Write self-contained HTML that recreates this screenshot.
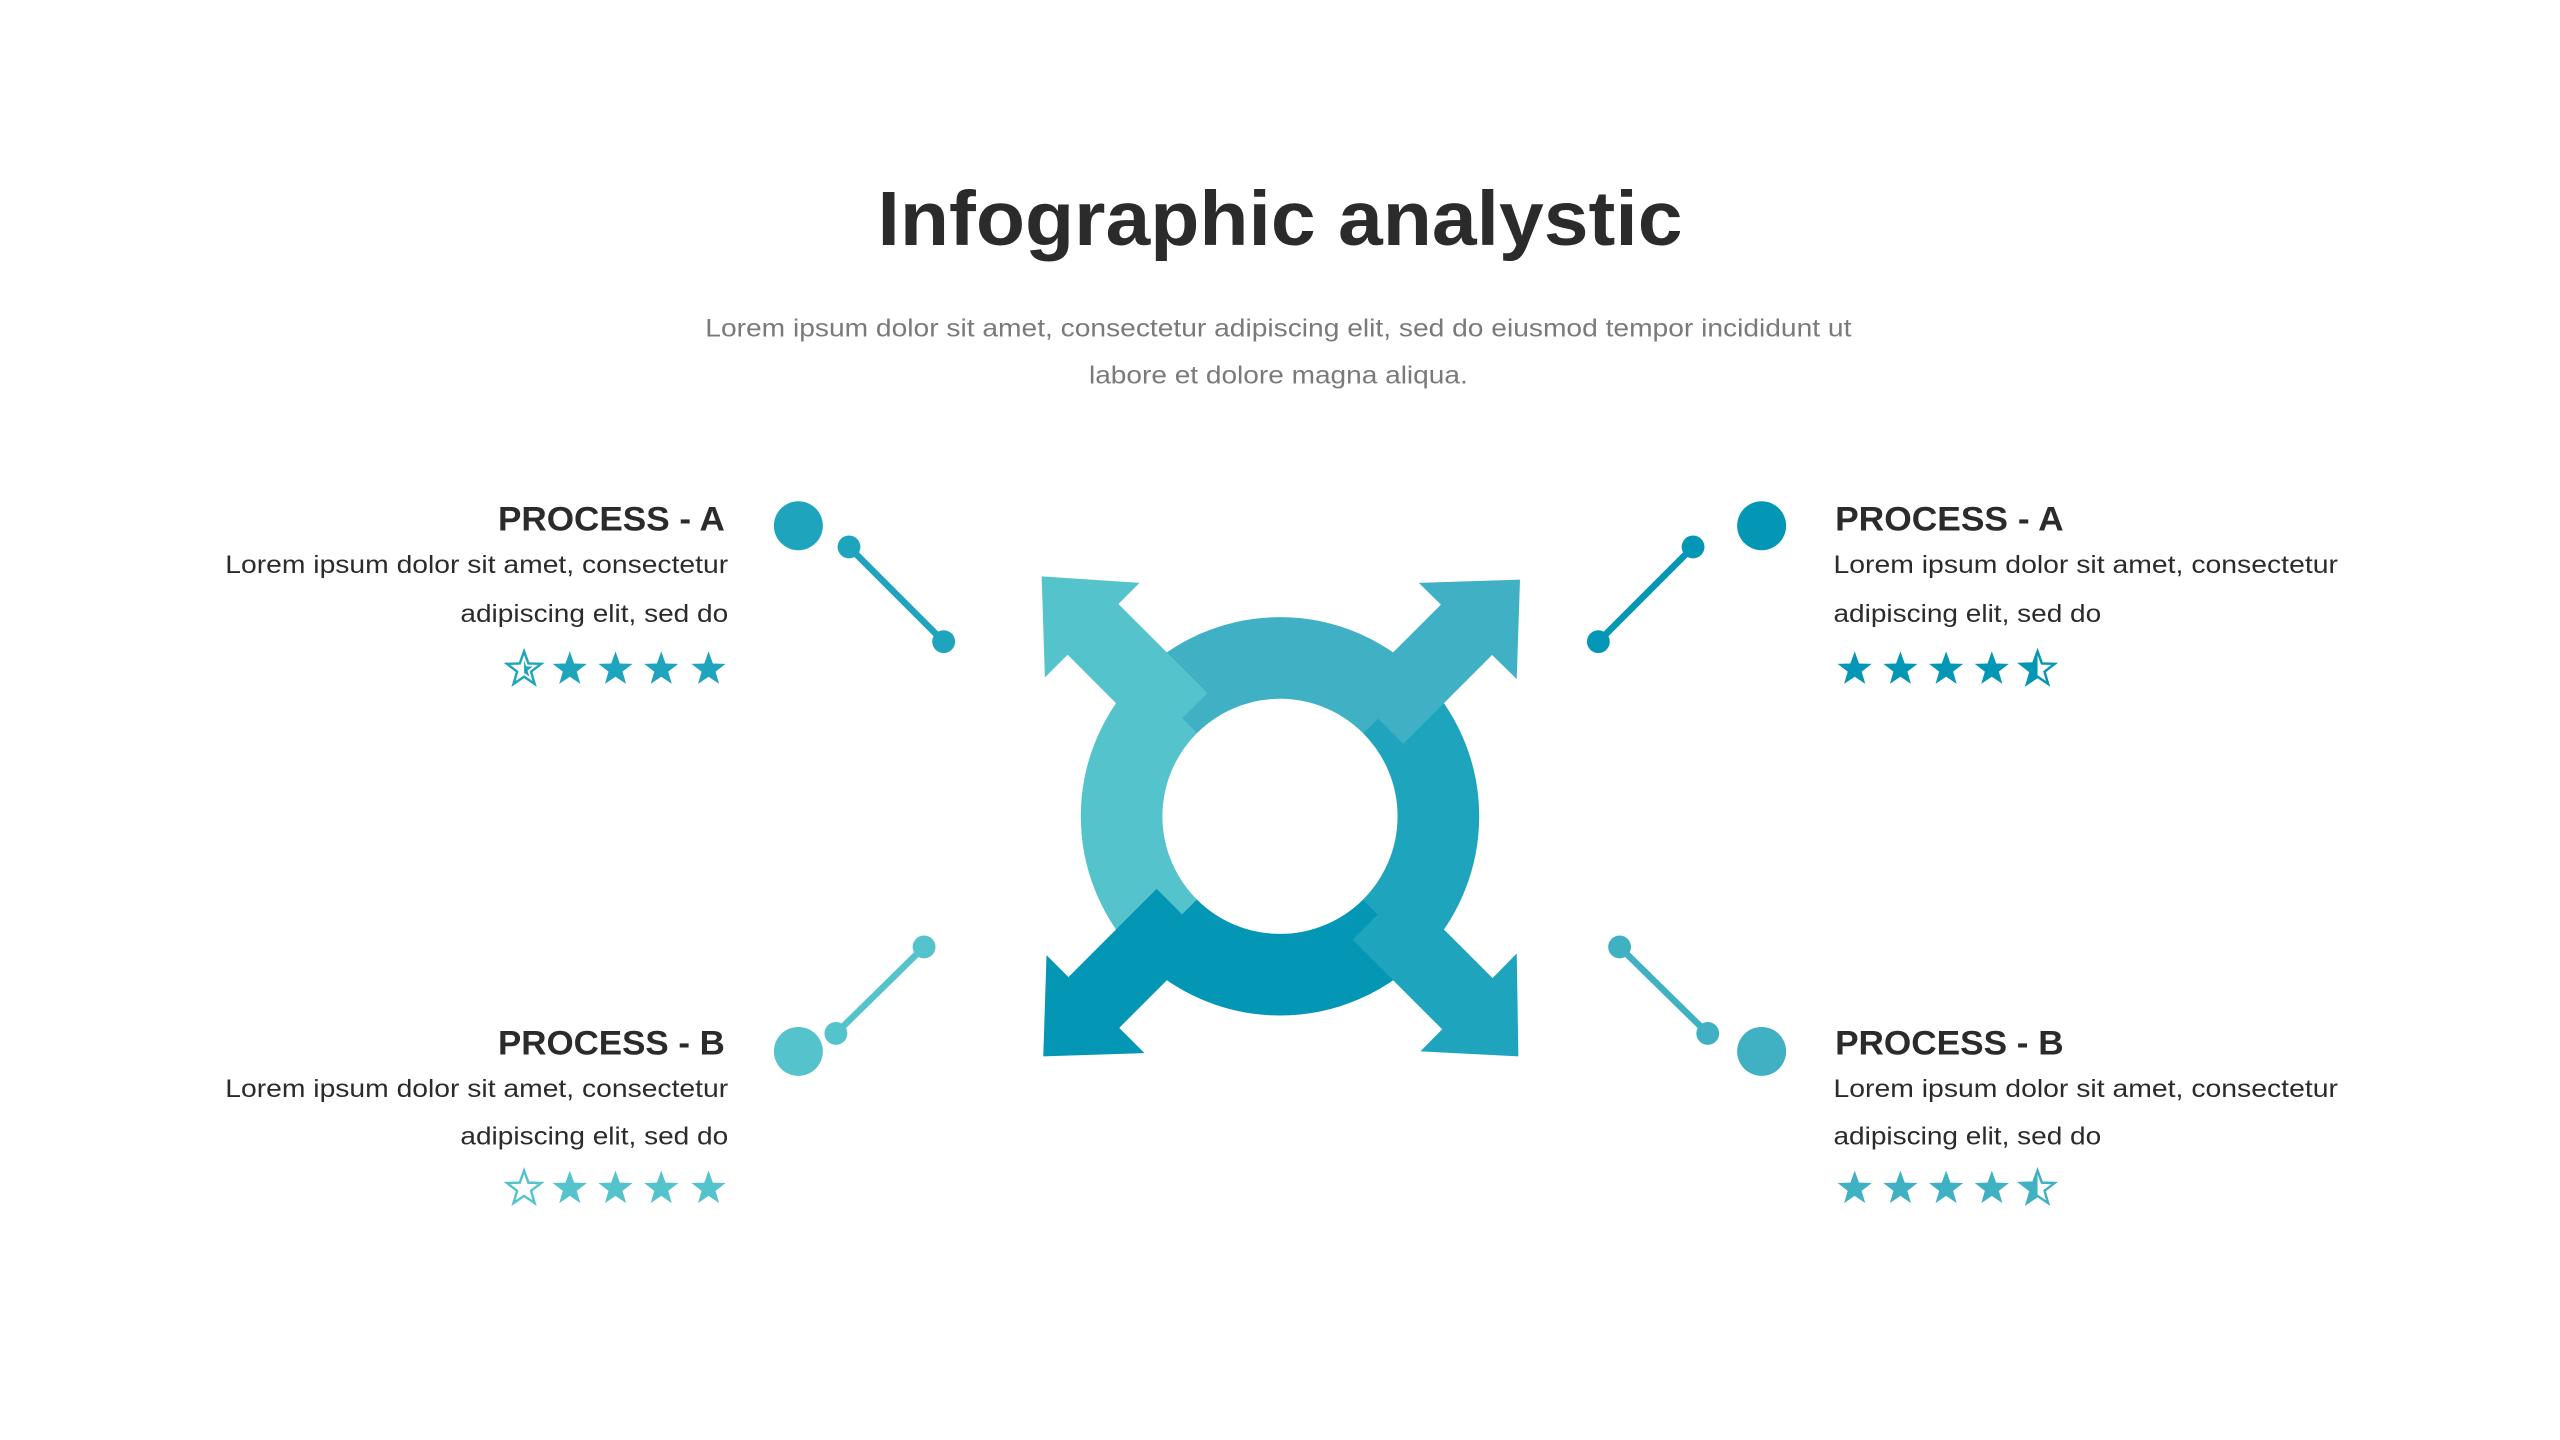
<!DOCTYPE html>
<html><head><meta charset="utf-8"><style>html,body{margin:0;padding:0;background:#fff;width:2560px;height:1440px;overflow:hidden}</style></head>
<body>
<svg width="2560" height="1440" viewBox="0 0 1568 882" xmlns="http://www.w3.org/2000/svg">
<defs>
<polygon id="st" points="0,-11 2.65,-3.64 10.46,-3.4 4.28,1.39 6.47,8.9 0,4.5 -6.47,8.9 -4.28,1.39 -10.46,-3.4 -2.65,-3.64"/>
<clipPath id="lh"><rect x="-12" y="-12" width="12" height="24"/></clipPath>
<clipPath id="rh"><rect x="0" y="-12" width="12" height="24"/></clipPath>
</defs>
<g font-family="'Liberation Sans', sans-serif">
<text x="784" y="150" text-anchor="middle" font-size="47" font-weight="bold" fill="#2b2b2b" textLength="493" lengthAdjust="spacingAndGlyphs">Infographic analystic</text>
<text x="432" y="206" font-size="15.5" fill="#7a7a7a" textLength="702" lengthAdjust="spacingAndGlyphs">Lorem ipsum dolor sit amet, consectetur adipiscing elit, sed do eiusmod tempor incididunt ut</text>
<text x="667" y="235" font-size="15.5" fill="#7a7a7a" textLength="232" lengthAdjust="spacingAndGlyphs">labore et dolore magna aliqua.</text>

<text x="305" y="325" font-size="21" font-weight="bold" fill="#2b2b2b" textLength="139" lengthAdjust="spacingAndGlyphs">PROCESS - A</text>
<text x="138" y="351" font-size="15.5" fill="#2b2b2b" textLength="308" lengthAdjust="spacingAndGlyphs">Lorem ipsum dolor sit amet, consectetur</text>
<text x="282" y="381" font-size="15.5" fill="#2b2b2b" textLength="164" lengthAdjust="spacingAndGlyphs">adipiscing elit, sed do</text>

<text x="305" y="646" font-size="21" font-weight="bold" fill="#2b2b2b" textLength="139" lengthAdjust="spacingAndGlyphs">PROCESS - B</text>
<text x="138" y="672" font-size="15.5" fill="#2b2b2b" textLength="308" lengthAdjust="spacingAndGlyphs">Lorem ipsum dolor sit amet, consectetur</text>
<text x="282" y="701" font-size="15.5" fill="#2b2b2b" textLength="164" lengthAdjust="spacingAndGlyphs">adipiscing elit, sed do</text>

<text x="1124" y="325" font-size="21" font-weight="bold" fill="#2b2b2b" textLength="140" lengthAdjust="spacingAndGlyphs">PROCESS - A</text>
<text x="1123" y="351" font-size="15.5" fill="#2b2b2b" textLength="309" lengthAdjust="spacingAndGlyphs">Lorem ipsum dolor sit amet, consectetur</text>
<text x="1123" y="381" font-size="15.5" fill="#2b2b2b" textLength="164" lengthAdjust="spacingAndGlyphs">adipiscing elit, sed do</text>

<text x="1124" y="646" font-size="21" font-weight="bold" fill="#2b2b2b" textLength="140" lengthAdjust="spacingAndGlyphs">PROCESS - B</text>
<text x="1123" y="672" font-size="15.5" fill="#2b2b2b" textLength="309" lengthAdjust="spacingAndGlyphs">Lorem ipsum dolor sit amet, consectetur</text>
<text x="1123" y="701" font-size="15.5" fill="#2b2b2b" textLength="164" lengthAdjust="spacingAndGlyphs">adipiscing elit, sed do</text>
</g>

<g fill="#1ea5bd">
<g transform="translate(321,410)"><use href="#st" fill="none" stroke="#1ea5bd" stroke-width="1.5"/><use href="#st" clip-path="url(#rh)" transform="scale(0.5)"/></g>
<use href="#st" x="349" y="410"/><use href="#st" x="377" y="410"/><use href="#st" x="405" y="410"/><use href="#st" x="434" y="410"/>
</g>
<g fill="#55c3cb">
<g transform="translate(321,728)"><use href="#st" fill="none" stroke="#55c3cb" stroke-width="1.5"/></g>
<use href="#st" x="349" y="728"/><use href="#st" x="377" y="728"/><use href="#st" x="405" y="728"/><use href="#st" x="434" y="728"/>
</g>
<g fill="#0396b5">
<use href="#st" x="1136" y="410"/><use href="#st" x="1164" y="410"/><use href="#st" x="1192" y="410"/><use href="#st" x="1220" y="410"/>
<g transform="translate(1248,410)"><use href="#st" fill="none" stroke="#0396b5" stroke-width="1.5"/><use href="#st" clip-path="url(#lh)"/></g>
</g>
<g fill="#3fb1c2">
<use href="#st" x="1136" y="728"/><use href="#st" x="1164" y="728"/><use href="#st" x="1192" y="728"/><use href="#st" x="1220" y="728"/>
<g transform="translate(1248,728)"><use href="#st" fill="none" stroke="#3fb1c2" stroke-width="1.5"/><use href="#st" clip-path="url(#lh)"/></g>
</g>

<g fill="#1ea5bd" stroke="#1ea5bd" stroke-width="4">
<circle cx="489" cy="322" r="15" stroke="none"/><line x1="520" y1="335" x2="578" y2="393"/><circle cx="520" cy="335" r="7" stroke="none"/><circle cx="578" cy="393" r="7" stroke="none"/>
</g>
<g fill="#0396b5" stroke="#0396b5" stroke-width="4">
<circle cx="1079" cy="322" r="15" stroke="none"/><line x1="1037" y1="335" x2="979" y2="393"/><circle cx="1037" cy="335" r="7" stroke="none"/><circle cx="979" cy="393" r="7" stroke="none"/>
</g>
<g fill="#55c3cb" stroke="#55c3cb" stroke-width="4">
<circle cx="489" cy="644" r="15" stroke="none"/><line x1="512" y1="633" x2="566" y2="580"/><circle cx="512" cy="633" r="7" stroke="none"/><circle cx="566" cy="580" r="7" stroke="none"/>
</g>
<g fill="#3fb1c2" stroke="#3fb1c2" stroke-width="4">
<circle cx="1079" cy="644" r="15" stroke="none"/><line x1="992" y1="580" x2="1046" y2="633"/><circle cx="992" cy="580" r="7" stroke="none"/><circle cx="1046" cy="633" r="7" stroke="none"/>
</g>

<g transform="translate(784,500)" fill="none" stroke-width="50">
<circle r="97" stroke="#40b1c4" stroke-dasharray="152.4 457.1" transform="rotate(-135)"/>
<circle r="97" stroke="#1ea5bd" stroke-dasharray="152.4 457.1" transform="rotate(-45)"/>
<circle r="97" stroke="#0396b5" stroke-dasharray="152.4 457.1" transform="rotate(45)"/>
<circle r="97" stroke="#55c3cb" stroke-dasharray="152.4 457.1" transform="rotate(135)"/>
</g>
<g stroke-width="44">
<line x1="724" y1="440" x2="660" y2="376" stroke="#55c3cb"/>
<line x1="844" y1="440" x2="908" y2="376" stroke="#40b1c4"/>
<line x1="844" y1="560" x2="908" y2="624" stroke="#1ea5bd"/>
<line x1="724" y1="560" x2="660" y2="624" stroke="#0396b5"/>
</g>
<polygon points="638,353 698,357 640,415" fill="#55c3cb"/>
<polygon points="931,355 869,357 929,416" fill="#40b1c4"/>
<polygon points="930,647 929,584 870,644" fill="#1ea5bd"/>
<polygon points="639,647 641,585 701,645" fill="#0396b5"/>
</svg>
</body></html>
